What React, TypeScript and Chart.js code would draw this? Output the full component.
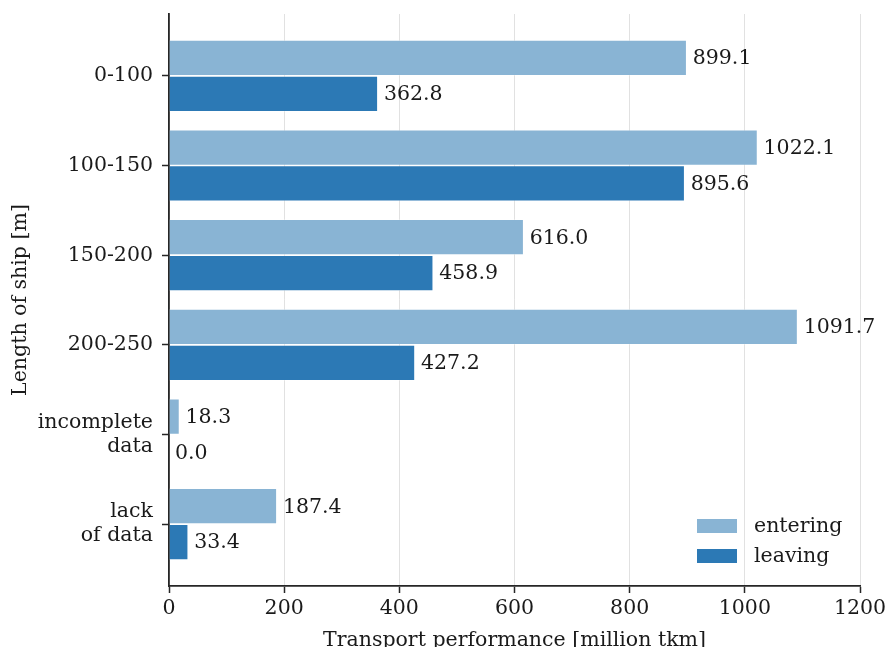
import React, { useEffect, useRef } from "react";
import { Chart, registerables } from "chart.js";

Chart.register(...registerables);

const categories: (string | string[])[] = [
  "0-100",
  "100-150",
  "150-200",
  "200-250",
  ["incomplete", "data"],
  ["lack", "of data"],
];
const entering = [899.1, 1022.1, 616.0, 1091.7, 18.3, 187.4];
const leaving = [362.8, 895.6, 458.9, 427.2, 0.0, 33.4];
const xTicks = [0, 200, 400, 600, 800, 1000, 1200];

const FONT = "'DejaVu Serif', serif";
const TEXT = "#1a1a1a";
const AXIS = "#262626";
const ENTER_COLOR = "#89b4d4";
const LEAVE_COLOR = "#2c79b5";
const FS = 20.5;
const CANVAS_H = 653;

// Value labels drawn just past the end of each bar
const valueLabels = {
  id: "valueLabels",
  afterDatasetsDraw(chart: any) {
    const ctx = chart.ctx;
    ctx.save();
    ctx.font = `${FS}px ${FONT}`;
    ctx.fillStyle = TEXT;
    ctx.textAlign = "left";
    ctx.textBaseline = "middle";
    chart.data.datasets.forEach((ds: any, di: number) => {
      const meta = chart.getDatasetMeta(di);
      meta.data.forEach((bar: any, i: number) => {
        const v = ds.data[i].x as number;
        ctx.fillText(v.toFixed(1), bar.x + 6, bar.y + 1);
      });
    });
    ctx.restore();
  },
};

// Frameless legend in the lower right of the plot area
const cornerLegend = {
  id: "cornerLegend",
  afterDraw(chart: any) {
    const ctx = chart.ctx;
    const area = chart.chartArea;
    ctx.save();
    ctx.font = `${FS}px ${FONT}`;
    ctx.textAlign = "left";
    ctx.textBaseline = "middle";
    const boxW = 40;
    const boxH = 14;
    const rowH = 30;
    const x0 = area.right - 163;
    const y0 = area.bottom - 60;
    chart.data.datasets.forEach((ds: any, i: number) => {
      const cy = y0 + i * rowH;
      ctx.fillStyle = ds.backgroundColor;
      ctx.fillRect(x0, cy - boxH / 2, boxW, boxH);
      ctx.fillStyle = TEXT;
      ctx.fillText(ds.label, x0 + boxW + 17, cy + 1);
    });
    ctx.restore();
  },
};

export default function App() {
  const canvasRef = useRef<HTMLCanvasElement | null>(null);

  useEffect(() => {
    const canvas = canvasRef.current;
    if (!canvas) return;
    const chart = new Chart(canvas, {
      type: "bar",
      data: {
        datasets: [
          {
            label: "entering",
            data: entering.map((v, i) => ({ x: v, y: i })),
            backgroundColor: ENTER_COLOR,
            borderColor: "rgba(255,255,255,0.45)",
            borderWidth: 0.8,
            categoryPercentage: 0.8,
            barPercentage: 1.0,
          },
          {
            label: "leaving",
            data: leaving.map((v, i) => ({ x: v, y: i })),
            backgroundColor: LEAVE_COLOR,
            borderColor: "rgba(255,255,255,0.45)",
            borderWidth: 0.8,
            categoryPercentage: 0.8,
            barPercentage: 1.0,
          },
        ],
      },
      options: {
        indexAxis: "y",
        responsive: false,
        animation: false,
        layout: { padding: { top: 14, right: 29, left: 0, bottom: 0 } },
        plugins: {
          legend: { display: false },
          tooltip: { enabled: false },
        },
        scales: {
          x: {
            type: "linear",
            min: 0,
            max: 1200,
            z: 1,
            afterBuildTicks: (scale: any) => {
              scale.ticks = xTicks.map((v) => ({ value: v }));
            },
            afterFit: (scale: any) => {
              scale.height = CANVAS_H - 586;
              scale.paddingLeft = 0;
              scale.paddingRight = 0;
            },
            ticks: {
              font: { family: FONT, size: FS },
              color: TEXT,
              padding: 3,
              maxRotation: 0,
              callback: (v: any) => String(v),
            },
            grid: {
              color: "rgba(200,200,200,0.55)",
              lineWidth: 1,
              drawTicks: true,
              tickLength: 7,
              tickColor: AXIS,
              tickWidth: 1.5,
            },
            border: { display: true, color: AXIS, width: 1.8 },
            title: {
              display: true,
              text: "Transport performance [million tkm]",
              font: { family: FONT, size: FS },
              color: TEXT,
              padding: { top: 0, bottom: 0 },
            },
          },
          y: {
            type: "linear",
            min: -0.69,
            max: 5.69,
            reverse: true,
            offset: false,
            afterBuildTicks: (scale: any) => {
              scale.ticks = categories.map((_, i) => ({ value: i }));
            },
            afterFit: (scale: any) => {
              scale.width = 169;
              scale.paddingTop = 0;
              scale.paddingBottom = 0;
            },
            ticks: {
              font: { family: FONT, size: FS, lineHeight: 1.17 },
              color: TEXT,
              padding: 9,
              callback: (v: any) => categories[v as number] ?? "",
            },
            grid: {
              offset: false,
              drawOnChartArea: false,
              drawTicks: true,
              tickLength: 7,
              tickColor: AXIS,
              tickWidth: 1.5,
            },
            border: { display: true, color: AXIS, width: 1.8 },
            title: {
              display: true,
              text: "Length of ship [m]",
              font: { family: FONT, size: FS },
              color: TEXT,
              padding: { top: 8, bottom: 0 },
            },
          },
        },
      },
      plugins: [valueLabels, cornerLegend],
    } as any);
    return () => chart.destroy();
  }, []);

  return (
    <div
      style={{
        position: "fixed",
        left: 0,
        top: 0,
        width: 889,
        height: 647,
        overflow: "hidden",
        background: "#fff",
      }}
    >
      <canvas ref={canvasRef} width={889} height={CANVAS_H} style={{ display: "block" }} />
    </div>
  );
}
